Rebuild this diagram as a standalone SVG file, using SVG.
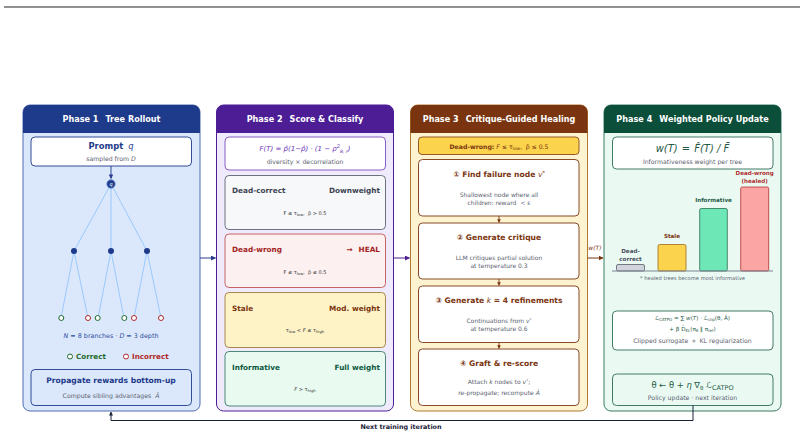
<svg xmlns="http://www.w3.org/2000/svg" width="804" height="437" viewBox="0 0 804 437">
<defs>
<style>
text{font-family:"DejaVu Sans","Liberation Sans",sans-serif}
.hdr{font-size:8.1px;font-weight:bold;fill:#fff;text-anchor:middle}
.b{font-weight:bold}
.mid{text-anchor:middle}
.end{text-anchor:end}
.it{font-style:italic}
.sub{font-size:6.2px;fill:#5b6270;text-anchor:middle}
.tiny{font-size:5px;fill:#333;text-anchor:middle}
.lbl{font-size:7.3px;font-weight:bold}
.s3t{font-size:7.6px;font-weight:bold;fill:#7a3510;text-anchor:middle}
.s3d{font-size:6px;fill:#5b6270;text-anchor:middle}
.bar{font-size:5.6px;font-weight:bold;text-anchor:middle}
.edge{stroke:#93c5fd;stroke-width:0.9;fill:none}
</style>
<marker id="ab" viewBox="0 0 10 10" refX="9" refY="5" markerWidth="5" markerHeight="5" orient="auto"><path d="M0,0L10,5L0,10z" fill="#2b3a8c"/></marker>
<marker id="ap" viewBox="0 0 10 10" refX="9" refY="5" markerWidth="5" markerHeight="5" orient="auto"><path d="M0,0L10,5L0,10z" fill="#4c1d95"/></marker>
<marker id="abr" viewBox="0 0 10 10" refX="9" refY="5" markerWidth="5" markerHeight="5" orient="auto"><path d="M0,0L10,5L0,10z" fill="#7a3510"/></marker>
<marker id="ak" viewBox="0 0 10 10" refX="9" refY="5" markerWidth="4" markerHeight="4" orient="auto"><path d="M0,0L10,5L0,10z" fill="#1a2238"/></marker>
<marker id="as" viewBox="0 0 10 10" refX="9" refY="5" markerWidth="4" markerHeight="4" orient="auto"><path d="M0,0L10,5L0,10z" fill="#7a3510"/></marker>
</defs>
<rect width="804" height="437" fill="#fff"/>
<line x1="4" y1="7" x2="800" y2="7" stroke="#222" stroke-width="1.2"/>

<!-- Phase 1 -->
<g id="phase1">
<rect x="23" y="105" width="177" height="306" rx="7" fill="#dbe8fb" stroke="#4f6bb0" stroke-width="1"/>
<path d="M23,133V112a7,7 0 0 1 7,-7H193a7,7 0 0 1 7,7V133z" fill="#1e3a8a"/>
<text x="111.5" y="122" class="hdr">Phase 1<tspan dx="7">Tree Rollout</tspan></text>
</g>
<g id="prompt">
<rect x="31" y="137" width="160.5" height="29" rx="4" fill="#fff" stroke="#1e3a8a" stroke-width="0.9"/>
<text x="111" y="149" class="mid b" font-size="8.4" fill="#1e3a8a">Prompt<tspan class="it" font-weight="normal" dx="5">q</tspan></text>
<text x="111" y="161" class="sub">sampled from <tspan class="it">D</tspan></text>
</g>
<g id="tree">
<line x1="111" y1="166" x2="111" y2="178.5" stroke="#1e3a8a" stroke-width="0.9" marker-end="url(#ab)"/>
<path class="edge" d="M111,184L74,251M111,184L111,251M111,184L147,251M74,251L61,318M74,251L88,318M111,251L98,318M111,251L124,318M147,251L134,318M147,251L161,318"/>
<circle cx="111" cy="184" r="4.2" fill="#1e3a8a" stroke="#6b8cd6" stroke-width="0.8"/>
<text x="111" y="186" class="mid it" font-size="5" fill="#fff">q</text>
<circle cx="74" cy="251" r="3" fill="#1e3a8a"/>
<circle cx="111" cy="251" r="3" fill="#1e3a8a"/>
<circle cx="147" cy="251" r="3" fill="#1e3a8a"/>
<g fill="#fff" stroke-width="1">
<circle cx="61.3" cy="318" r="2.5" stroke="#1f6b2e"/>
<circle cx="88" cy="318" r="2.5" stroke="#b02a2a"/>
<circle cx="97.7" cy="318" r="2.5" stroke="#1f6b2e"/>
<circle cx="124.3" cy="318" r="2.5" stroke="#1f6b2e"/>
<circle cx="134" cy="318" r="2.5" stroke="#b02a2a"/>
<circle cx="161" cy="318" r="2.5" stroke="#b02a2a"/>
</g>
<text x="111" y="338" class="mid" font-size="6.4" fill="#2e4a9e"><tspan class="it">N</tspan> = 8 branches · <tspan class="it">D</tspan> = 3 depth</text>
<circle cx="70" cy="356.5" r="2.5" fill="#fff" stroke="#1f6b2e" stroke-width="1"/>
<text x="76" y="359" font-size="7.2" class="b" fill="#1f6b2e">Correct</text>
<circle cx="126" cy="356.5" r="2.5" fill="#fff" stroke="#b02a2a" stroke-width="1"/>
<text x="132" y="359" font-size="7.2" class="b" fill="#b02a2a">Incorrect</text>
</g>
<g id="propagate">
<rect x="31" y="369.5" width="160.5" height="36" rx="4" fill="#dbe8fb" stroke="#1e3a8a" stroke-width="0.9"/>
<text x="111" y="383" class="mid b" font-size="7.6" fill="#1e3a8a">Propagate rewards bottom-up</text>
<text x="111" y="398" class="sub">Compute sibling advantages<tspan class="it" dx="4">Â</tspan></text>
</g>

<!-- Phase 2 -->
<g id="phase2">
<rect x="216.5" y="105" width="177" height="306" rx="7" fill="#f0ebfc" stroke="#4c1d95" stroke-width="1"/>
<path d="M216.5,133V112a7,7 0 0 1 7,-7H386.5a7,7 0 0 1 7,7V133z" fill="#4c1d95"/>
<text x="305" y="122" class="hdr">Phase 2<tspan dx="7">Score &amp; Classify</tspan></text>
</g>
<g id="formula">
<rect x="225" y="137" width="160.5" height="33" rx="4" fill="#fff" stroke="#7c4dbe" stroke-width="0.9"/>
<text x="305" y="151" class="mid it" font-size="7" fill="#6b32b8">F(T) = p̂(1−p̂) · (1 − ρ<tspan font-size="5" dy="-3">2</tspan><tspan font-size="4.5" dy="4.5">B, r</tspan><tspan dy="-1.5">)</tspan></text>
<text x="305" y="164" class="sub">diversity × decorrelation</text>
</g>
<g id="dead-correct">
<rect x="225" y="175.5" width="160.5" height="54" rx="4" fill="#f7f8fa" stroke="#5a6270" stroke-width="0.9"/>
<text x="232" y="193" class="lbl" fill="#3d4452">Dead-correct</text>
<text x="380" y="193" class="lbl end" fill="#3d4452">Downweight</text>
<text x="305" y="215" class="tiny">F ≤ τ<tspan font-size="3.8" dy="1">low</tspan><tspan dy="-1">, </tspan><tspan dx="1.5">p̂ &gt; 0.5</tspan></text>
</g>
<g id="dead-wrong">
<rect x="225" y="234" width="160.5" height="53.5" rx="4" fill="#fdf0f0" stroke="#c05555" stroke-width="0.9"/>
<text x="232" y="252" class="lbl" fill="#a31e1e">Dead-wrong</text>
<text x="380" y="252" class="lbl end" fill="#a31e1e">→<tspan dx="6">HEAL</tspan></text>
<text x="305" y="274" class="tiny">F ≤ τ<tspan font-size="3.8" dy="1">low</tspan><tspan dy="-1">, </tspan><tspan dx="1.5">p̂ ≤ 0.5</tspan></text>
</g>
<g id="stale">
<rect x="225" y="292.5" width="160.5" height="55" rx="4" fill="#fef3c7" stroke="#a07a40" stroke-width="0.9"/>
<text x="232" y="311" class="lbl" fill="#7a3510">Stale</text>
<text x="380" y="311" class="lbl end" fill="#7a3510">Mod. weight</text>
<text x="305" y="332" class="tiny">τ<tspan font-size="3.8" dy="1">low</tspan><tspan dy="-1"> &lt; </tspan><tspan class="it">F</tspan> ≤ τ<tspan font-size="3.8" dy="1">high</tspan></text>
</g>
<g id="informative">
<rect x="225" y="351.5" width="160.5" height="54.5" rx="4" fill="#e9fbf1" stroke="#3a7a6a" stroke-width="0.9"/>
<text x="232" y="370" class="lbl" fill="#0f5a40">Informative</text>
<text x="380" y="370" class="lbl end" fill="#0f5a40">Full weight</text>
<text x="305" y="391" class="tiny"><tspan class="it">F</tspan> &gt; τ<tspan font-size="3.8" dy="1">high</tspan></text>
</g>

<!-- Phase 3 -->
<g id="phase3">
<rect x="410.5" y="105" width="177" height="306" rx="7" fill="#fef3d0" stroke="#b07a30" stroke-width="1"/>
<path d="M410.5,133V112a7,7 0 0 1 7,-7H580.5a7,7 0 0 1 7,7V133z" fill="#7a3510"/>
<text x="499" y="122" class="hdr">Phase 3<tspan dx="7">Critique-Guided Healing</tspan></text>
</g>
<g id="banner">
<rect x="418.5" y="137" width="160.5" height="17.5" rx="3.5" fill="#fcd34d" stroke="#7a3510" stroke-width="0.8"/>
<text x="499" y="148.5" class="mid" font-size="6.2" fill="#7a3510"><tspan class="b">Dead-wrong:</tspan> <tspan class="it">F</tspan> ≤ τ<tspan font-size="4.4" dy="1">low</tspan><tspan dy="-1">, </tspan><tspan dx="1.5">p̂ ≤ 0.5</tspan></text>
</g>
<g id="step1">
<rect x="418.5" y="159.5" width="160.5" height="56.5" rx="4" fill="#fff" stroke="#7a3510" stroke-width="0.9"/>
<text x="499" y="177" class="s3t">① Find failure node <tspan class="it" font-weight="normal">v</tspan><tspan font-size="4.5" dy="-3">*</tspan></text>
<text x="499" y="197" class="s3d">Shallowest node where all</text>
<text x="499" y="205" class="s3d">children: reward <tspan dx="2">&lt; ε</tspan></text>
</g>
<g id="step2">
<rect x="418.5" y="223" width="160.5" height="56" rx="4" fill="#fff" stroke="#7a3510" stroke-width="0.9"/>
<text x="499" y="240" class="s3t">② Generate critique</text>
<text x="499" y="260" class="s3d">LLM critiques partial solution</text>
<text x="499" y="268" class="s3d">at temperature 0.3</text>
</g>
<g id="step3">
<rect x="418.5" y="286" width="160.5" height="56.5" rx="4" fill="#fff" stroke="#7a3510" stroke-width="0.9"/>
<text x="499" y="303" class="s3t">③ Generate <tspan class="it" font-weight="normal">k</tspan> = 4 refinements</text>
<text x="499" y="323" class="s3d">Continuations from <tspan class="it">v</tspan><tspan font-size="4" dy="-2.5">*</tspan></text>
<text x="499" y="331" class="s3d">at temperature 0.6</text>
</g>
<g id="step4">
<rect x="418.5" y="349" width="160.5" height="56.5" rx="4" fill="#fff" stroke="#7a3510" stroke-width="0.9"/>
<text x="499" y="366" class="s3t">④ Graft &amp; re-score</text>
<text x="499" y="384" class="s3d">Attach <tspan class="it">k</tspan> nodes to <tspan class="it">v</tspan><tspan font-size="4" dy="-2.5">*</tspan><tspan dy="2.5">;</tspan></text>
<text x="499" y="395" class="s3d">re-propagate; recompute <tspan class="it">Â</tspan></text>
</g>

<!-- Phase 4 -->
<g id="phase4">
<rect x="604" y="105" width="177" height="306" rx="7" fill="#eafaf3" stroke="#3a7a60" stroke-width="1"/>
<path d="M604,133V112a7,7 0 0 1 7,-7H774a7,7 0 0 1 7,7V133z" fill="#0b4f3a"/>
<text x="692.5" y="122" class="hdr">Phase 4<tspan dx="7">Weighted Policy Update</tspan></text>
</g>
<g id="weight">
<rect x="612.5" y="137" width="160.5" height="32" rx="4" fill="#fff" stroke="#2f6b55" stroke-width="0.9"/>
<text x="692.5" y="152" class="mid it" font-size="10" fill="#1f5a45">w(T)<tspan dx="4">=</tspan><tspan dx="4">F̂(T) / F̄</tspan></text>
<text x="692.5" y="164" class="sub">Informativeness weight per tree</text>
</g>
<g id="chart">
<rect x="616.5" y="264.5" width="28" height="6.5" rx="1.5" fill="#d1d5db" stroke="#555b66" stroke-width="0.8"/>
<rect x="658" y="244.5" width="28" height="26.5" rx="1.5" fill="#fcd34d" stroke="#a06a20" stroke-width="0.8"/>
<rect x="699.7" y="208.5" width="27.6" height="62.5" rx="1.5" fill="#6ee7b7" stroke="#2f6b55" stroke-width="0.8"/>
<rect x="740.7" y="187" width="28" height="84" rx="1.5" fill="#fca5a5" stroke="#b03030" stroke-width="0.8"/>
<line x1="612" y1="271" x2="773" y2="271" stroke="#7a8290" stroke-width="1"/>
<text x="630.5" y="253" class="bar" fill="#4a5060">Dead-</text>
<text x="630.5" y="260.5" class="bar" fill="#4a5060">correct</text>
<text x="672" y="238" class="bar" fill="#7a3510">Stale</text>
<text x="713.5" y="201.5" class="bar" fill="#1f5a45">Informative</text>
<text x="754.7" y="175" class="bar" fill="#b03030">Dead-wrong</text>
<text x="754.7" y="182.5" class="bar" fill="#b03030">(healed)</text>
<text x="692.5" y="279.5" class="mid" font-size="5.2" fill="#5b6270">* healed trees become most informative</text>
</g>
<g id="loss">
<rect x="612.5" y="311" width="160.5" height="39" rx="4" fill="#fff" stroke="#2f6b55" stroke-width="0.9"/>
<text x="692.5" y="319.5" class="mid" font-size="5.6" fill="#1f5a45"><tspan class="it">ℒ</tspan><tspan font-size="4" dy="1">CATPO</tspan><tspan dy="-1"> = ∑ </tspan><tspan class="it">w</tspan>(<tspan class="it">T</tspan>) · <tspan class="it">ℒ</tspan><tspan font-size="4" dy="1">clip</tspan><tspan dy="-1">(θ, Â)</tspan></text>
<text x="692.5" y="330.5" class="mid" font-size="5.6" fill="#1f5a45">+ β D̂<tspan font-size="4" dy="1">KL</tspan><tspan dy="-1">(π</tspan><tspan font-size="4" dy="1">θ</tspan><tspan dy="-1"> ‖ π</tspan><tspan font-size="4" dy="1">ref</tspan><tspan dy="-1">)</tspan></text>
<text x="692.5" y="343" class="sub" font-size="5.6">Clipped surrogate<tspan dx="3">+</tspan><tspan dx="3">KL regularization</tspan></text>
</g>
<g id="update">
<rect x="612.5" y="374" width="160.5" height="31.5" rx="4" fill="#eafaf3" stroke="#2f6b55" stroke-width="0.9"/>
<text x="692.5" y="388" class="mid" font-size="8.4" fill="#1f5a45">θ ← θ + <tspan class="it">η</tspan> ∇<tspan font-size="5.5" dy="1.5">θ</tspan><tspan dy="-1.5"> ℒ</tspan><tspan font-size="6.5" dy="1.5">CATPO</tspan></text>
<text x="692.5" y="400" class="sub" font-size="6.2">Policy update · next iteration</text>
</g>

<g id="connectors">
<line x1="200" y1="258" x2="215.5" y2="258" stroke="#2b3a8c" stroke-width="1" marker-end="url(#ab)"/>
<line x1="393.5" y1="258" x2="409.5" y2="258" stroke="#4c1d95" stroke-width="1" marker-end="url(#ap)"/>
<line x1="587.5" y1="258" x2="603" y2="258" stroke="#7a3510" stroke-width="1" marker-end="url(#abr)"/>
<text x="595" y="250" class="mid it" font-size="6" fill="#7a3510">w(T)</text>
<line x1="499" y1="216" x2="499" y2="222.5" stroke="#7a3510" stroke-width="0.9" marker-end="url(#as)"/>
<line x1="499" y1="279" x2="499" y2="285.5" stroke="#7a3510" stroke-width="0.9" marker-end="url(#as)"/>
<line x1="499" y1="342.5" x2="499" y2="348.5" stroke="#7a3510" stroke-width="0.9" marker-end="url(#as)"/>
<path d="M693,405.5V420.5H111V412" fill="none" stroke="#1a2238" stroke-width="1" marker-end="url(#ak)"/>
<text x="401" y="429" class="mid b" font-size="6.4" fill="#1a2238">Next training iteration</text>
</g>
</svg>
